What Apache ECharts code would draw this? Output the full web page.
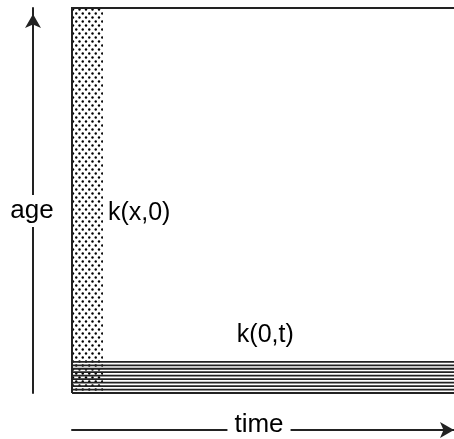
<!DOCTYPE html>
<html><head><meta charset="utf-8">
<script src="https://cdn.jsdelivr.net/npm/echarts@6/dist/echarts.min.js"></script>
<style>html,body{margin:0;padding:0;background:#fff}#c{width:454px;height:439px}</style>
</head><body><div id="c"></div>
<script>
const timeDomain = [0, 100];
const ageDomain = [0, 100];
const initialTimeSpan = [0, 8.1];
const initialAgeSpan = [0, 100];
const boundaryTimeSpan = [0, 100];
const boundaryAgeLevels = [0, 0.9, 1.8, 2.7, 3.6, 4.5, 5.4, 6.3, 7.2, 8.1];
const labelTexts = ['k(x,0)', 'k(0,t)'];
const labelTimes = [9.4, 50.6];
const labelAges = [46.8, 15];
const axisNames = ['time', 'age'];

function dotPattern() {
  const c = document.createElement('canvas');
  c.width = 13; c.height = 8;
  const g = c.getContext('2d');
  g.fillStyle = '#000';
  [[1.5, 1.5], [8, 1.5], [4.75, 5.5], [11.25, 5.5]].forEach(function (p) {
    g.beginPath(); g.arc(p[0], p[1], 1.2, 0, Math.PI * 2); g.fill();
  });
  return c;
}
const pattern = dotPattern();

const chart = echarts.init(document.getElementById('c'), null, {renderer: 'canvas'});
chart.setOption({
  animation: false,
  backgroundColor: '#fff',
  grid: {left: 72, top: 8, right: 0, bottom: 46, show: false},
  xAxis: {
    type: 'value', min: timeDomain[0], max: timeDomain[1], offset: 37,
    axisLine: {show: true, onZero: false, symbol: ['none', 'arrow'], symbolSize: [12, 14], symbolOffset: [0, 0], lineStyle: {color: '#222', width: 2}},
    axisTick: {show: false}, axisLabel: {show: false}, splitLine: {show: false}
  },
  yAxis: {
    type: 'value', min: ageDomain[0], max: ageDomain[1], offset: 39,
    axisLine: {show: true, onZero: false, symbol: ['none', 'arrow'], symbolSize: [12, 14], symbolOffset: [0, -6], lineStyle: {color: '#222', width: 2}},
    axisTick: {show: false}, axisLabel: {show: false}, splitLine: {show: false}
  },
  series: [
    {
      type: 'custom', z: 1, silent: true,
      data: [[initialTimeSpan[0], initialAgeSpan[0], initialTimeSpan[1], initialAgeSpan[1]]],
      renderItem: function (params, api) {
        const p0 = api.coord([api.value(0), api.value(1)]);
        const p1 = api.coord([api.value(2), api.value(3)]);
        return {type: 'rect', shape: {x: p0[0], y: p1[1], width: p1[0] - p0[0], height: p0[1] - p1[1]},
          style: {fill: {image: pattern, repeat: 'repeat'}}};
      }
    },
    {
      type: 'custom', z: 2, silent: true,
      data: boundaryAgeLevels.map(function (a) { return [boundaryTimeSpan[0], a, boundaryTimeSpan[1]]; }),
      renderItem: function (params, api) {
        const a = api.coord([api.value(0), api.value(1)]);
        const b = api.coord([api.value(2), api.value(1)]);
        return {type: 'line', shape: {x1: a[0], y1: a[1], x2: b[0], y2: b[1]}, style: {stroke: '#222', lineWidth: 1.8}};
      }
    },
    {
      type: 'custom', z: 2, silent: true,
      data: [[timeDomain[0], ageDomain[0], timeDomain[1], ageDomain[1]]],
      renderItem: function (params, api) {
        const p0 = api.coord([api.value(0), api.value(1)]);
        const p1 = api.coord([api.value(0), api.value(3)]);
        const p2 = api.coord([api.value(2), api.value(3)]);
        return {type: 'polyline', shape: {points: [p0, p1, p2]}, style: {stroke: '#222', lineWidth: 2, fill: null}};
      }
    },
    {
      type: 'custom', z: 3, silent: true,
      data: labelTexts.map(function (t, i) { return [labelTimes[i], labelAges[i], i]; }),
      renderItem: function (params, api) {
        const p = api.coord([api.value(0), api.value(1)]);
        const i = api.value(2);
        return {type: 'text', x: p[0], y: p[1], style: {text: labelTexts[i], font: '25px "Liberation Sans"', fill: '#000',
          align: i === 0 ? 'left' : 'center', verticalAlign: 'middle'}};
      }
    }
  ],
  graphic: [
    {type: 'text', x: 32, y: 211, z: 100, style: {text: axisNames[1], font: '26px "Liberation Sans"', fill: '#000', align: 'center', verticalAlign: 'middle', backgroundColor: '#fff', padding: [3, 3]}},
    {type: 'text', x: 259, y: 425, z: 100, style: {text: axisNames[0], font: '26px "Liberation Sans"', fill: '#000', align: 'center', verticalAlign: 'middle', backgroundColor: '#fff', padding: [2, 7]}}
  ]
});
</script></body></html>
